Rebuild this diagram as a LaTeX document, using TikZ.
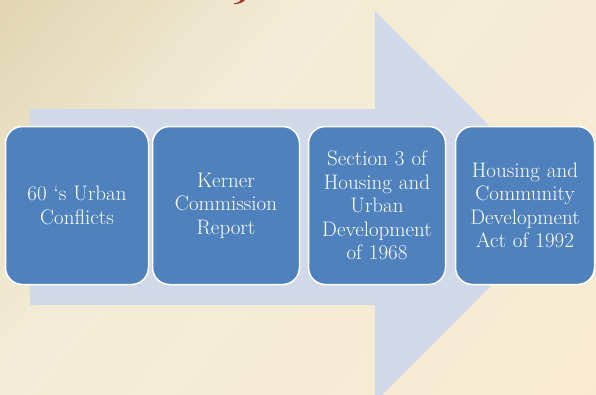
\documentclass[tikz,border=0pt]{standalone}
\definecolor{bgTan}{HTML}{D6C69C}
\definecolor{bgCream}{HTML}{F2ECD6}
\definecolor{bgPeach}{HTML}{FAEACF}
\definecolor{arrowFill}{HTML}{D0D8E9}
\definecolor{boxFill}{HTML}{4F81BD}
\definecolor{titleRed}{HTML}{A8302E}
\pgfdeclarehorizontalshading{paper}{100bp}{color(0bp)=(bgTan); color(38bp)=(bgCream); color(100bp)=(bgPeach)}
\tikzset{
  stagebox/.style={draw=white, line width=1.5pt, fill=boxFill, rounded corners=17pt,
    minimum height=158pt, inner sep=2pt, text=white,
    align=center, font=\fontsize{21}{23.5}\selectfont},
}
\begin{document}
\begin{tikzpicture}[x=1pt,y=-1pt]
  \useasboundingbox (0,0) rectangle (596,394);
  % paper background
  \shade[shading=paper, shading angle=-40] (0,0) rectangle (596,394);
  % tail of the title lettering at the top edge
  \fill[titleRed] (234,3.2) .. controls (237.5,3.2) and (240,1.5) .. (241,0)
    -- (245,0) .. controls (243,2.3) and (239,4.2) .. (234,4.2) -- cycle;
  % large timeline arrow
  \fill[arrowFill] (30,109) -- (375,109) -- (375,11) -- (570,206.5)
    -- (375,402) -- (375,305) -- (30,305) -- cycle;
  % stages
  \node[stagebox, minimum width=143pt, text width=136pt] (s1) at (77,205.5)
    {60 `s Urban\\Conflicts};
  \node[stagebox, minimum width=147pt, text width=140pt] (s2) at (226,205.5)
    {Kerner\\Commission\\Report};
  \node[stagebox, minimum width=137pt, text width=130pt] (s3) at (377,205.5)
    {Section 3 of\\Housing and\\Urban\\Development\\of 1968};
  \node[stagebox, minimum width=139pt, text width=132pt] (s4) at (525,205.5)
    {Housing and\\Community\\Development\\Act of 1992};
\end{tikzpicture}
\end{document}
